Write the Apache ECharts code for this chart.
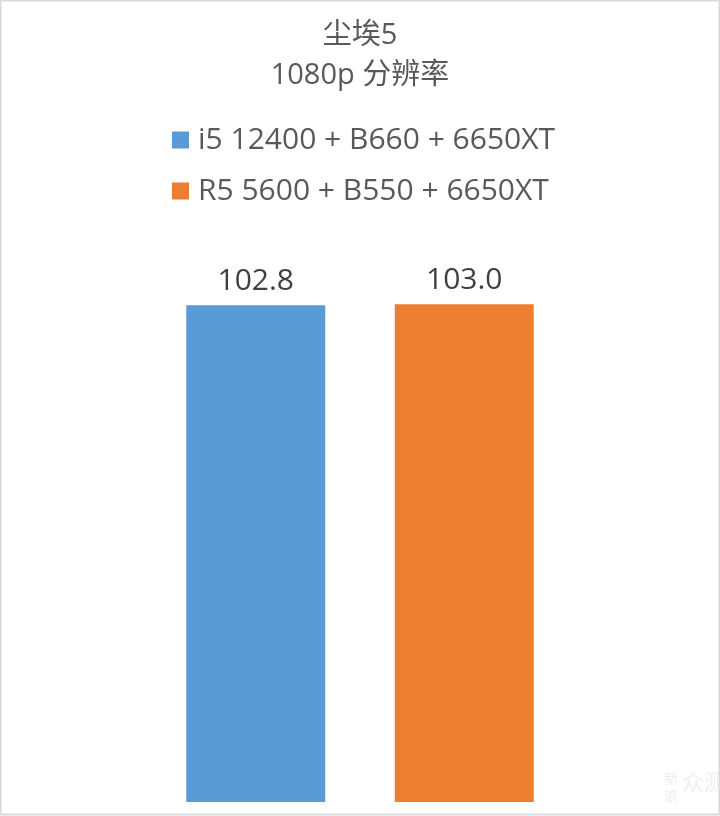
<!DOCTYPE html>
<html>
<head>
<meta charset="utf-8">
<script src="https://cdn.jsdelivr.net/npm/echarts@6/dist/echarts.min.js"></script>
<style>
html,body{margin:0;padding:0;background:#fff;}
#chart{width:720px;height:816px;}
</style>
</head>
<body>
<div id="chart"></div>
<script>
const titleLines = ['尘埃5', '1080p 分辨率'];
const categories = ['尘埃5'];
const seriesNames = ['i5 12400 + B660 + 6650XT', 'R5 5600 + B550 + 6650XT'];
const seriesValues = [[102.8], [103.0]];
const seriesColors = ['#5B9BD5', '#ED7D31'];

const font = '"Open Sans", "Noto Sans CJK SC", sans-serif';
const chart = echarts.init(document.getElementById('chart'));
chart.setOption({
  backgroundColor: '#fff',
  animation: false,
  title: {
    text: titleLines.join('\n'),
    left: 'center',
    top: 11,
    textStyle: { fontFamily: font, fontSize: 29, fontWeight: 'normal', color: '#595959', lineHeight: 40 }
  },
  legend: {
    orient: 'vertical',
    left: 167,
    top: 120,
    itemWidth: 17,
    itemHeight: 17,
    itemGap: 21,
    icon: 'rect',
    textStyle: { fontFamily: font, fontSize: 30, color: '#595959', lineHeight: 30, padding: [0, 0, 0, 4] },
    data: seriesNames
  },
  grid: { left: 10, right: 10, top: 222, bottom: 14 },
  xAxis: {
    type: 'category',
    data: categories,
    axisLine: { show: false },
    axisTick: { show: false },
    axisLabel: { show: false }
  },
  yAxis: {
    type: 'value',
    min: 0,
    max: 120,
    show: false,
    splitLine: { show: false }
  },
  series: seriesNames.map((name, i) => ({
    name: name,
    type: 'bar',
    data: seriesValues[i],
    barWidth: 139,
    barGap: '50%',
    itemStyle: { color: seriesColors[i] },
    label: {
      show: true,
      position: 'top',
      distance: 9,
      formatter: p => p.value.toFixed(1),
      fontFamily: font,
      fontSize: 30,
      color: '#404040'
    }
  })),
  graphic: [
    { type: 'rect', shape: { x: 0.5, y: 0.5, width: 719, height: 814 }, style: { fill: 'none', stroke: '#d9d9d9', lineWidth: 2 }, silent: true },
    { type: 'text', left: 664, top: 770, style: { text: '新\n浪', fontSize: 14, lineHeight: 18, fill: '#eeeeee', fontFamily: font } },
    { type: 'text', left: 682, top: 773, style: { text: '众测', fontSize: 22, fill: '#eeeeee', fontFamily: font } }
  ]
});
</script>
</body>
</html>
